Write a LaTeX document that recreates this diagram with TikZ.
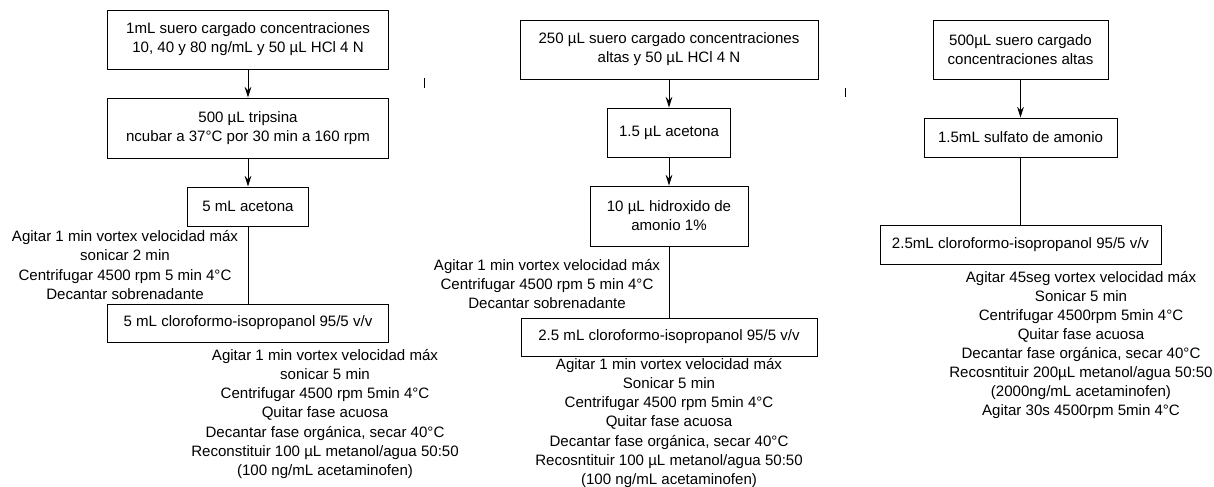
\documentclass[tikz,border=0pt]{standalone}
\usepackage{fontspec}
\setmainfont{Liberation Sans}
\usetikzlibrary{arrows.meta}
\begin{document}
\begin{tikzpicture}[x=0.75pt,y=-0.75pt,
  font=\fontsize{11.3}{14.3}\selectfont,
  caja/.style 2 args={draw, line width=0.7pt, align=center, inner sep=2pt,
    minimum width=#1*0.75pt, minimum height=#2*0.75pt},
  nota/.style={align=center, inner sep=0pt},
  flecha/.style={line width=0.7pt, -{Stealth[length=8pt,width=5pt]}},
  linea/.style={line width=0.7pt}]
\useasboundingbox (0,0) rectangle (1214,486);
% primera columna
\node[caja={281}{59}] (a1) at (248,39.5) {1mL suero cargado concentraciones\\ 10, 40 y 80 ng/mL y 50 µL HCl 4 N};
\node[caja={281}{60}] (a2) at (248,128) {500 µL tripsina\\ ncubar a 37°C por 30 min a 160 rpm};
\node[caja={121}{39}] (a3) at (248,206.5) {5 mL acetona};
\node[caja={281}{38}] (a4) at (248,323) {5 mL cloroformo-isopropanol 95/5 v/v};
\node[nota] (ta) at (125,265) {Agitar 1 min vortex velocidad máx\\ sonicar 2 min\\ Centrifugar 4500 rpm 5 min 4°C\\ Decantar sobrenadante};
\node[nota] (tb) at (325,414) {Agitar 1 min vortex velocidad máx\\ sonicar 5 min\\ Centrifugar 4500 rpm 5min 4°C\\ Quitar fase acuosa\\ Decantar fase orgánica, secar 40°C\\ Reconstituir 100 µL metanol/agua 50:50\\ (100 ng/mL acetaminofen)};
\draw[flecha] (a1) -- (a2);
\draw[flecha] (a2) -- (a3);
\draw[linea] (a3) -- (a4);
% segunda columna
\node[caja={298}{59}] (b1) at (669,49.5) {250 µL suero cargado concentraciones\\ altas y 50 µL HCl 4 N};
\node[caja={123}{49}] (b2) at (669,132.5) {1.5 µL acetona};
\node[caja={158}{60}] (b3) at (669,216) {10 µL hidroxido de\\ amonio 1\%};
\node[caja={296}{38}] (b4) at (669,337) {2.5 mL cloroformo-isopropanol 95/5 v/v};
\node[nota] (tc) at (547,284) {Agitar 1 min vortex velocidad máx\\ Centrifugar 4500 rpm 5 min 4°C\\ Decantar sobrenadante};
\node[nota] (td) at (669,423) {Agitar 1 min vortex velocidad máx\\ Sonicar 5 min\\ Centrifugar 4500 rpm 5min 4°C\\ Quitar fase acuosa\\ Decantar fase orgánica, secar 40°C\\ Recosntituir 100 µL metanol/agua 50:50\\ (100 ng/mL acetaminofen)};
\draw[flecha] (b1) -- (b2);
\draw[flecha] (b2) -- (b3);
\draw[linea] (b3) -- (b4);
% tercera columna
\node[caja={175}{59}] (c1) at (1020.5,49.5) {500µL suero cargado\\ concentraciones altas};
\node[caja={193}{39}] (c2) at (1020.5,137.5) {1.5mL sulfato de amonio};
\node[caja={281}{39}] (c3) at (1020.5,244.5) {2.5mL cloroformo-isopropanol 95/5 v/v};
\node[nota] (te) at (1081,345) {Agitar 45seg vortex velocidad máx\\ Sonicar 5 min\\ Centrifugar 4500rpm 5min 4°C\\ Quitar fase acuosa\\ Decantar fase orgánica, secar 40°C\\ Recosntituir 200µL metanol/agua 50:50\\ (2000ng/mL acetaminofen)\\ Agitar 30s 4500rpm 5min 4°C};
\draw[flecha] (c1) -- (c2);
\draw[linea] (c2) -- (c3);
% marcas sueltas
\draw[linea] (424,78) -- (424,88);
\draw[linea] (845,88) -- (845,97);
\end{tikzpicture}
\end{document}
